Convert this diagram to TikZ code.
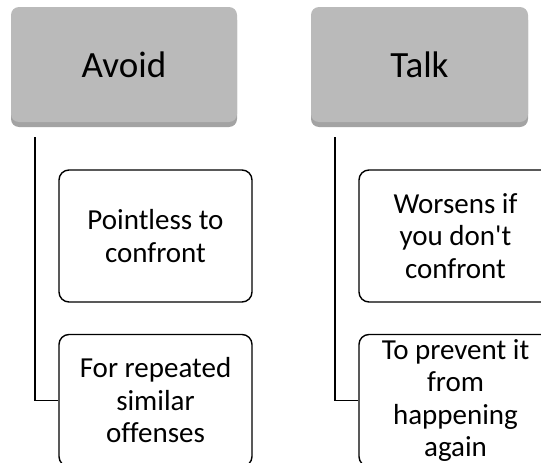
\documentclass[tikz,border=0pt]{standalone}
\usepackage{fontspec}
\setmainfont[Ligatures={NoCommon}]{Carlito}
\definecolor{fondGris}{RGB}{186,186,186}
\definecolor{ombreGris}{RGB}{163,163,163}
\begin{document}
\begin{tikzpicture}[x=1pt,y=-1pt]
	\tikzstyle{titre}=[rounded corners=8pt,fill=fondGris,inner sep=0pt,minimum height=115pt,
		font=\fontsize{37}{42}\selectfont,preaction={fill=ombreGris,transform canvas={yshift=-5pt}}]
	\tikzstyle{fils}=[draw,rounded corners=10pt,line width=1.4pt,inner sep=0pt,minimum width=193pt,
		minimum height=132pt,align=center,font=\fontsize{29}{32.5}\selectfont]
	\tikzstyle{trait}=[line width=1.4pt]
	\def\YTitre{64.5}\def\YFilsA{236}\def\YFilsB{400.5}
	\useasboundingbox (0,0) rectangle (541,463);
	%
	\node[titre,minimum width=226pt] (A) at (124,\YTitre) {Avoid};
	\node[titre,minimum width=217pt] (T) at (419.5,\YTitre) {Talk};
	%
	\node[fils] (Aa) at (155.5,\YFilsA) {Pointless to\\confront};
	\node[fils] (Ab) at (155.5,\YFilsB) {For repeated\\similar\\offenses};
	\node[fils] (Ta) at (455.5,\YFilsA) {Worsens if\\you don\textquotesingle t\\confront};
	\node[fils] (Tb) at (455.5,\YFilsB) {To prevent it\\from\\happening\\again};
	%
	\coordinate (Ai) at (35,137);
	\coordinate (Ti) at (335,137);
	\draw[trait] (Ai) |- (Ab.west);
	\draw[trait] (Ti) |- (Tb.west);
\end{tikzpicture}
\end{document}
